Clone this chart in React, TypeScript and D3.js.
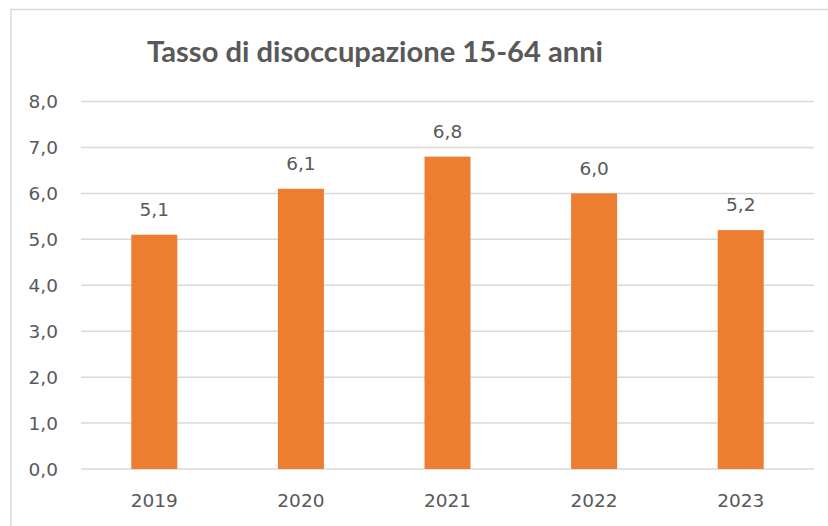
import React from "react";
import * as d3 from "d3";

const years = ["2019", "2020", "2021", "2022", "2023"];
const rates = [5.1, 6.1, 6.8, 6.0, 5.2];
const yTicks = [0, 1, 2, 3, 4, 5, 6, 7, 8];
const title = "Tasso di disoccupazione 15-64 anni";

const W = 828;
const H = 526;
const plotLeft = 81;
const plotRight = 814;
const yBottom = 469;
const yTop = 101.5;

const fmt = (v: number) => v.toFixed(1).replace(".", ",");

export default function App() {
  const barFrac = 46 / 146.6;
  const x = d3
    .scaleBand<string>()
    .domain(years)
    .range([plotLeft, plotRight])
    .paddingInner(1 - barFrac)
    .paddingOuter((1 - barFrac) / 2);
  const y = d3.scaleLinear().domain([0, 8]).range([yBottom, yTop]);
  const labelFont = "'DejaVu Sans', sans-serif";
  const grey = "#595959";
  const fs = 18.5;

  return (
    <svg
      width={W}
      height={H}
      viewBox={`0 0 ${W} ${H}`}
      style={{ position: "absolute", left: 0, top: 0, background: "#fff" }}
    >
      <rect x={0} y={0} width={W} height={H} fill="#fff" />
      <rect x={11} y={9.5} width={840} height={540} fill="none" stroke="#D9D9D9" strokeWidth={1.5} />
      <text
        x={147}
        y={61.5}
        fontFamily="Lato, 'Open Sans', sans-serif"
        fontWeight={700}
        fontSize={28}
        fill={grey}
        textLength={456}
        lengthAdjust="spacingAndGlyphs"
      >
        {title}
      </text>
      {yTicks.map((t) => (
        <g key={t}>
          <line
            x1={plotLeft}
            x2={plotRight}
            y1={y(t)}
            y2={y(t)}
            stroke="#D9D9D9"
            strokeWidth={1.5}
          />
          <text
            x={58}
            y={y(t)}
            dy="0.36em"
            textAnchor="end"
            fontFamily={labelFont}
            fontSize={fs}
            fill={grey}
          >
            {fmt(t)}
          </text>
        </g>
      ))}
      {years.map((yr, i) => {
        const bx = x(yr)!;
        const bw = x.bandwidth();
        const cx = bx + bw / 2;
        return (
          <g key={yr}>
            <rect
              x={bx}
              y={y(rates[i])}
              width={bw}
              height={y(0) - y(rates[i])}
              fill="#ED7D31"
            />
            <text
              x={cx}
              y={y(rates[i]) - 18.7}
              textAnchor="middle"
              fontFamily={labelFont}
              fontSize={fs}
              fill={grey}
            >
              {fmt(rates[i])}
            </text>
            <text
              x={cx}
              y={506.5}
              textAnchor="middle"
              fontFamily={labelFont}
              fontSize={fs}
              fill={grey}
            >
              {yr}
            </text>
          </g>
        );
      })}
    </svg>
  );
}
